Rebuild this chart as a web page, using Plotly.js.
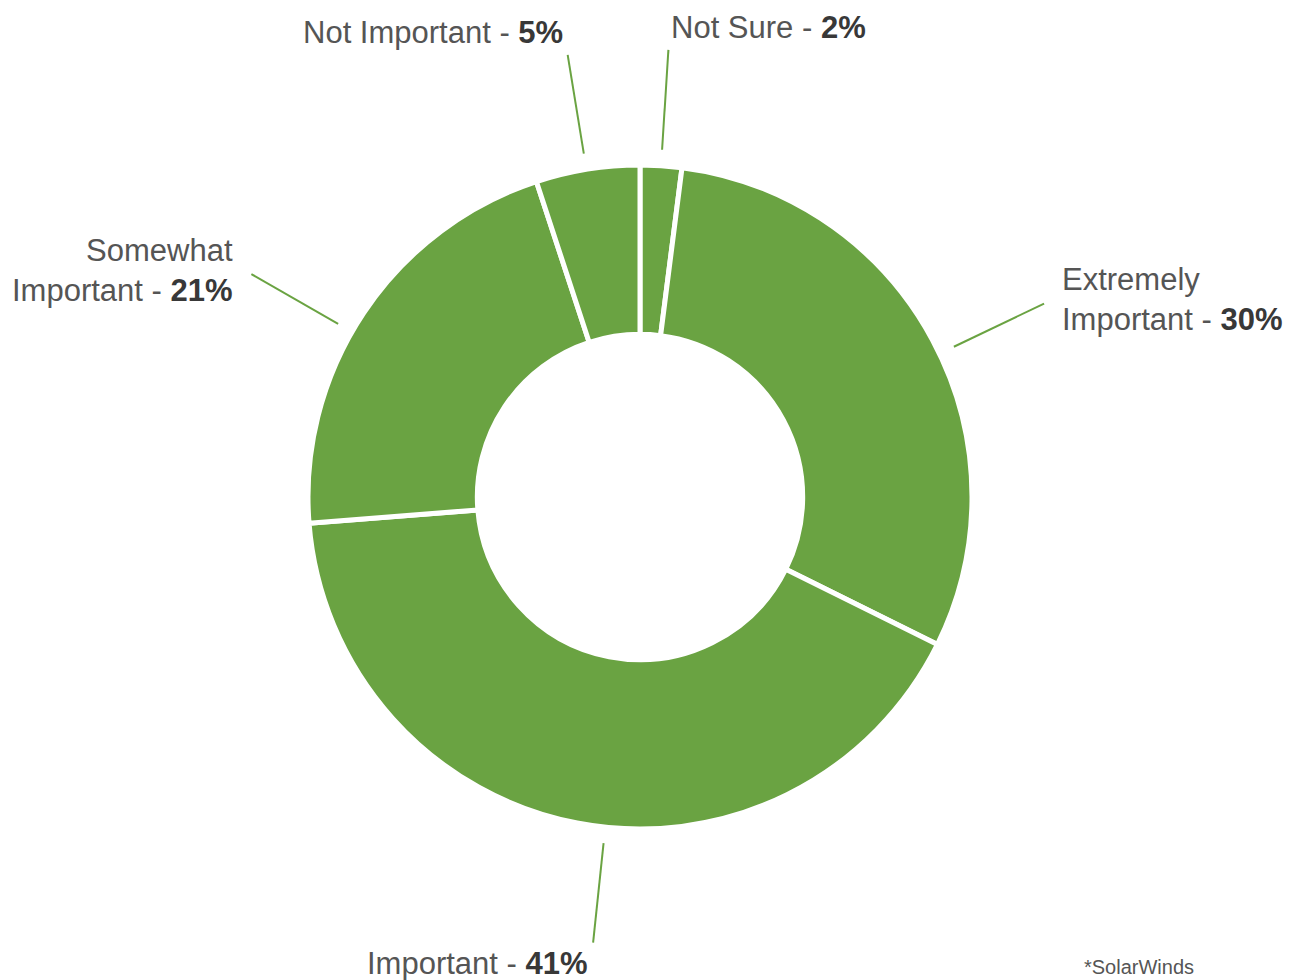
<!DOCTYPE html>
<html>
<head>
<meta charset="utf-8">
<script src="https://cdn.plot.ly/plotly-3.0.1.min.js"></script>
<style>html,body{margin:0;padding:0;background:#fff;}#chart{width:1294px;height:980px;}</style>
</head>
<body>
<div id="chart"></div>
<script>
// Data
const categories = ["Not Sure", "Extremely Important", "Important", "Somewhat Important", "Not Important"];
const labelLines = ["Not Sure", "Extremely<br>Important", "Important", "Somewhat<br>Important", "Not Important"];
const values = [2, 30, 41, 21, 5];
const sourceNote = "*SolarWinds";

// Label layout tweaks (degrees added to each slice's mid-angle for its leader line)
const labelAngleNudge = [0, 2.6, -4.9, -3.8, -0.2];

// Layout geometry
const W = 1294, H = 980;
const M = {l: 0, r: 14, t: 165, b: 151};
const plotW = W - M.l - M.r, plotH = H - M.t - M.b;
const cx = M.l + plotW / 2, cy = M.t + plotH / 2;
const R = Math.min(plotW, plotH) / 2;
const green = "#6aa342";
const textColor = "#555555";
const font = "'Liberation Sans', Arial, Helvetica, sans-serif";

function px2paper(x, y) { return [(x - M.l) / plotW, 1 - (y - M.t) / plotH]; }

const total = values.reduce((a, b) => a + b, 0);
const shapes = [], annotations = [];
let cum = 0;
values.forEach((v, i) => {
  const mid = ((cum + v / 2) / total * 360 + labelAngleNudge[i]) * Math.PI / 180;
  cum += v;
  const sx = Math.sin(mid), sy = -Math.cos(mid);
  const r1 = R + 16, r2 = R + 116;
  const x1 = cx + r1 * sx, y1 = cy + r1 * sy;
  const x2 = cx + r2 * sx, y2 = cy + r2 * sy;
  const p1 = px2paper(x1, y1), p2 = px2paper(x2, y2);
  shapes.push({type: "line", xref: "paper", yref: "paper", x0: p1[0], y0: p1[1], x1: p2[0], y1: p2[1],
    line: {color: green, width: 2}});
  let tx, ty, xa, ya;
  const txt = labelLines[i] + " - <b><span style=\"color:#383838\">" + v + "%</span></b>";
  if (Math.abs(Math.cos(mid)) > 0.8) {
    if (sy < 0) { ty = y2 - 3; ya = "bottom"; } else { ty = y2 + 1; ya = "top"; }
    if (sx >= 0) { tx = x2 + 1; xa = "left"; } else { tx = x2 - 3; xa = "right"; }
  } else {
    ty = y2 - 4; ya = "middle";
    if (sx >= 0) { tx = x2 + 16; xa = "left"; } else { tx = x2 - 16; xa = "right"; }
  }
  const tp = px2paper(tx, ty);
  annotations.push({xref: "paper", yref: "paper", x: tp[0], y: tp[1], xanchor: xa, yanchor: ya,
    text: txt, showarrow: false, align: xa === "right" ? "right" : "left",
    font: {family: font, size: 31, color: textColor}});
});

const np = px2paper(1082, 967);
annotations.push({xref: "paper", yref: "paper", x: np[0], y: np[1], xanchor: "left", yanchor: "middle",
  text: sourceNote, showarrow: false, font: {family: font, size: 20, color: "#555"}});

const trace = {
  type: "pie",
  labels: categories,
  values: values,
  hole: 0.49,
  sort: false,
  direction: "clockwise",
  rotation: 0,
  textinfo: "none",
  hoverinfo: "label+percent",
  marker: {colors: categories.map(() => green), line: {color: "#ffffff", width: 5}},
  showlegend: false
};

const layout = {
  width: W, height: H,
  margin: M,
  paper_bgcolor: "#ffffff",
  plot_bgcolor: "#ffffff",
  showlegend: false,
  shapes: shapes,
  annotations: annotations
};

Plotly.newPlot("chart", [trace], layout, {displayModeBar: false, staticPlot: true});
</script>
</body>
</html>
